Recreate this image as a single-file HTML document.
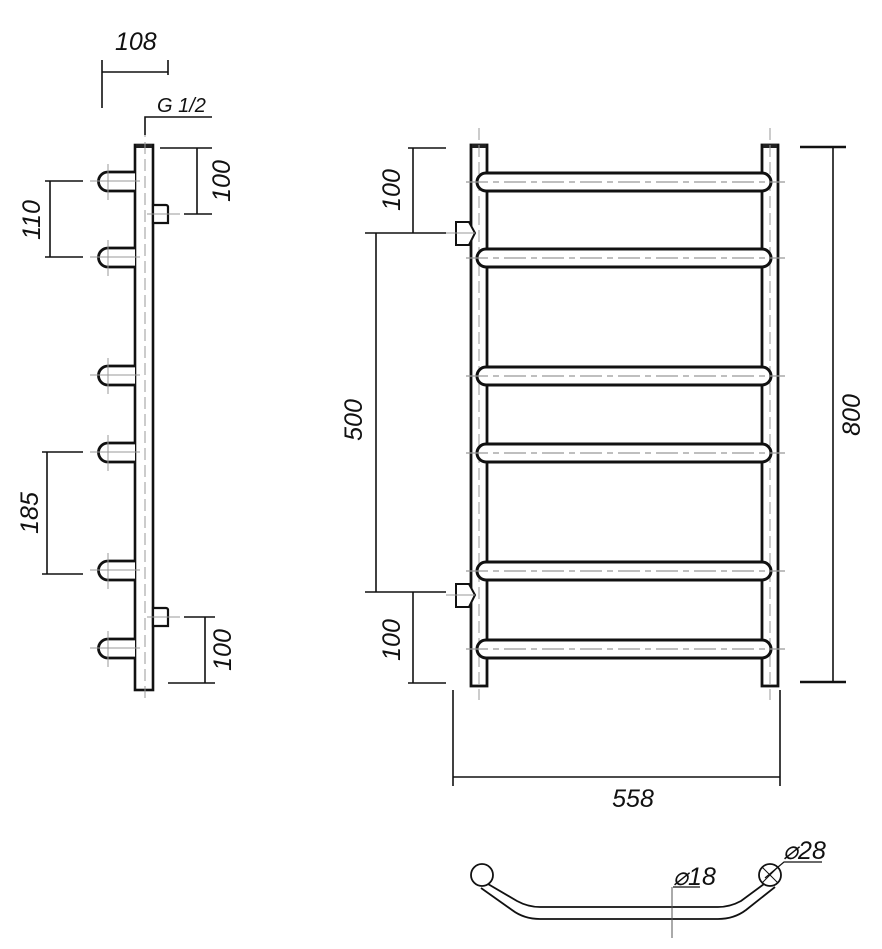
<!DOCTYPE html>
<html><head><meta charset="utf-8"><style>
html,body{margin:0;padding:0;background:#fff;}
svg{display:block;}
text{font-family:"Liberation Sans",sans-serif;font-style:italic;font-size:25px;fill:#111;}
</style></head><body>
<svg width="882" height="949" viewBox="0 0 882 949" xmlns="http://www.w3.org/2000/svg">
<defs>
<g id="bar">
<path d="M486,173 H762 A9,9 0 0 1 762,191 H486 A9,9 0 0 1 486,173 Z" fill="#fff" stroke="#111" stroke-width="3"/>
<line x1="466" y1="182" x2="785" y2="182" stroke="#999" stroke-width="1.2" stroke-dasharray="22,5,6,5"/>
</g>
<g id="stub">
<path d="M135,172 H108 A9.5,9.5 0 0 0 108,191 H135" fill="#fff" stroke="#111" stroke-width="2.8"/>
<line x1="90" y1="181" x2="140" y2="181" stroke="#999" stroke-width="1"/>
<line x1="108" y1="164" x2="108" y2="200" stroke="#999" stroke-width="1"/>
</g>
</defs>

<!-- ===== SIDE VIEW ===== -->
<rect x="135" y="145" width="18" height="545" fill="#fff" stroke="#111" stroke-width="2.6"/>
<rect x="136" y="144" width="16" height="4" fill="#222"/>
<line x1="145" y1="125" x2="145" y2="698" stroke="#999" stroke-width="1" stroke-dasharray="12,5"/>
<use href="#stub" y="0"/>
<use href="#stub" y="76"/>
<use href="#stub" y="194"/>
<use href="#stub" y="271"/>
<use href="#stub" y="389"/>
<use href="#stub" y="467"/>
<path d="M153,205 H166 A2,2 0 0 1 168,207 V223 H153 Z" fill="#fff" stroke="#111" stroke-width="2.2"/>
<path d="M153,608 H166 A2,2 0 0 1 168,610 V626 H153 Z" fill="#fff" stroke="#111" stroke-width="2.2"/>
<line x1="147" y1="214" x2="180" y2="214" stroke="#999" stroke-width="1"/>
<line x1="147" y1="617" x2="180" y2="617" stroke="#999" stroke-width="1"/>
<g stroke="#111" stroke-width="1.6" fill="none">
<line x1="102" y1="60" x2="102" y2="108"/>
<line x1="168" y1="60" x2="168" y2="75"/>
<line x1="102" y1="72" x2="168" y2="72"/>
<polyline points="145,135 145,117 212,117"/>
<line x1="50" y1="181" x2="50" y2="257"/>
<line x1="45" y1="181" x2="83" y2="181"/>
<line x1="45" y1="257" x2="83" y2="257"/>
<line x1="47" y1="452" x2="47" y2="574"/>
<line x1="42" y1="452" x2="83" y2="452"/>
<line x1="42" y1="574" x2="83" y2="574"/>
<line x1="197" y1="148" x2="197" y2="214"/>
<line x1="160" y1="148" x2="212" y2="148"/>
<line x1="184" y1="214" x2="212" y2="214"/>
<line x1="205" y1="617" x2="205" y2="683"/>
<line x1="184" y1="617" x2="215" y2="617"/>
<line x1="168" y1="683" x2="215" y2="683"/>
</g>
<text x="115" y="50">108</text>
<text x="157" y="112" style="font-size:20px">G 1/2</text>
<text transform="translate(40,220) rotate(-90)" text-anchor="middle">110</text>
<text transform="translate(38,513) rotate(-90)" text-anchor="middle">185</text>
<text transform="translate(230,181) rotate(-90)" text-anchor="middle">100</text>
<text transform="translate(231,650) rotate(-90)" text-anchor="middle">100</text>

<!-- ===== FRONT VIEW ===== -->
<rect x="471" y="145" width="16" height="541" fill="#fff" stroke="#111" stroke-width="2.8"/>
<rect x="762" y="145" width="16" height="541" fill="#fff" stroke="#111" stroke-width="2.8"/>
<rect x="472" y="144" width="14" height="4" fill="#222"/>
<rect x="763" y="144" width="14" height="4" fill="#222"/>
<line x1="479" y1="128" x2="479" y2="700" stroke="#999" stroke-width="1" stroke-dasharray="12,5"/>
<line x1="770" y1="128" x2="770" y2="700" stroke="#999" stroke-width="1" stroke-dasharray="12,5"/>
<use href="#bar" y="0"/>
<use href="#bar" y="76"/>
<use href="#bar" y="194"/>
<use href="#bar" y="271"/>
<use href="#bar" y="389"/>
<use href="#bar" y="467"/>
<path d="M456,222 H469 L475,233 L469,245 H456 Z" fill="#fff" stroke="#111" stroke-width="2"/>
<path d="M456,584 H469 L475,595 L469,607 H456 Z" fill="#fff" stroke="#111" stroke-width="2"/>
<g stroke="#111" stroke-width="1.6" fill="none">
<line x1="413" y1="148" x2="413" y2="233"/>
<line x1="408" y1="148" x2="446" y2="148"/>
<line x1="365" y1="233" x2="446" y2="233"/>
<line x1="376" y1="233" x2="376" y2="592"/>
<line x1="365" y1="592" x2="446" y2="592"/>
<line x1="413" y1="592" x2="413" y2="683"/>
<line x1="408" y1="683" x2="446" y2="683"/>
<line x1="453" y1="690" x2="453" y2="786"/>
<line x1="780" y1="690" x2="780" y2="786"/>
<line x1="453" y1="777" x2="780" y2="777"/>
</g>
<g stroke="#111" stroke-width="2.6">
<line x1="833" y1="147" x2="833" y2="682" stroke-width="1.6"/>
<line x1="800" y1="147" x2="846" y2="147"/>
<line x1="800" y1="682" x2="846" y2="682"/>
</g>
<line x1="446" y1="233" x2="475" y2="233" stroke="#999" stroke-width="1"/>
<line x1="446" y1="595" x2="475" y2="595" stroke="#999" stroke-width="1"/>
<text transform="translate(400,190) rotate(-90)" text-anchor="middle">100</text>
<text transform="translate(362,420) rotate(-90)" text-anchor="middle">500</text>
<text transform="translate(400,640) rotate(-90)" text-anchor="middle">100</text>
<text transform="translate(860,415) rotate(-90)" text-anchor="middle">800</text>
<text x="633" y="807" text-anchor="middle">558</text>

<!-- ===== BOTTOM VIEW ===== -->
<g fill="none" stroke="#111" stroke-width="1.8">
<path d="M488,884 L517,901 Q528,907 540,907 H718 Q730,907 741,901 L764,884"/>
<path d="M481,888 L512,910 Q524,919 540,919 H718 Q734,919 746,910 L775,887"/>
<circle cx="482" cy="875" r="11" fill="#fff"/>
<circle cx="770" cy="875" r="11" fill="#fff"/>
<line x1="762" y1="867" x2="778" y2="883" stroke-width="1"/>
<line x1="778" y1="867" x2="762" y2="883" stroke-width="1"/>
<polyline points="673,887 700,887" stroke-width="1.2"/>
<line x1="672" y1="887" x2="672" y2="938" stroke-width="1" stroke="#555"/>
<polyline points="765,878 784,862 822,862" stroke-width="1.2"/>
</g>
<text x="673" y="885">⌀18</text>
<text x="783" y="859">⌀28</text>
</svg>
</body></html>
